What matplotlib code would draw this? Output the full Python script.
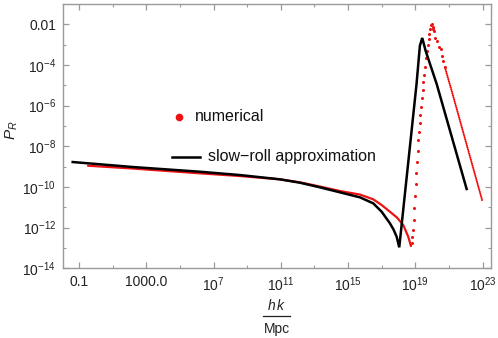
import numpy as np
import matplotlib
matplotlib.use("Agg")
import matplotlib.pyplot as plt
from matplotlib.ticker import FixedLocator, FixedFormatter, NullFormatter
from matplotlib.lines import Line2D

plt.rcParams['font.family'] = ['Liberation Sans', 'DejaVu Sans']
plt.rcParams['mathtext.fontset'] = 'custom'
plt.rcParams['mathtext.rm'] = 'Liberation Sans'
plt.rcParams['mathtext.it'] = 'Liberation Sans:italic'
plt.rcParams['mathtext.default'] = 'regular'

# ---- data (log10 values) ----
black_logk = [-1.375, 2.21, 6.194, 8.572, 10.95, 12.139, 13.328, 14.518, 15.707, 16.497, 16.997,
              17.49, 17.70, 17.889, 18.043,
              19.07, 19.27, 19.41, 19.61, 20.27, 22.05]
black_logP = [-8.773, -9.019, -9.250, -9.413, -9.624, -9.791, -10.018, -10.264, -10.510, -10.805, -11.218,
              -11.789, -12.09, -12.448, -12.969,
              -4.94, -3.05, -2.67, -3.30, -4.94, -10.10]

red_smooth_logk = [-0.465, 2.21, 6.194, 8.572, 10.95, 12.139, 13.328, 14.518, 15.707, 16.497, 16.997,
                   17.49, 17.906, 18.281, 18.578, 18.739]
red_smooth_logP = [-8.955, -9.093, -9.329, -9.462, -9.624, -9.772, -9.978, -10.200, -10.372, -10.608, -10.888,
                   -11.218, -11.503, -11.872, -12.448, -12.905]

red_dots_logk = [18.78, 18.82, 18.86, 18.90, 18.93, 18.98, 19.02, 19.05, 19.10, 19.14, 19.17, 19.21,
                 19.26, 19.29, 19.33, 19.37, 19.43, 19.47, 19.53, 19.59, 19.63, 19.71, 19.77, 19.79,
                 19.83, 19.87, 19.93, 19.99, 20.03, 20.06, 20.11, 20.18, 20.27, 20.42, 20.50, 20.56,
                 20.62, 20.76]
red_dots_logP = [-12.77, -12.45, -12.12, -11.63, -11.05, -10.45, -9.87, -9.30, -8.76, -8.22, -7.69, -7.28,
                 -6.87, -6.46, -6.05, -5.64, -5.23, -4.86, -4.48, -4.09, -3.67, -3.30, -3.00, -2.72,
                 -2.48, -2.23, -2.02, -1.99, -2.12, -2.23, -2.31, -2.67, -2.81, -3.13, -3.21, -3.54,
                 -3.79, -4.12]

red_tail_logk = [20.76, 21.16, 22.98]
red_tail_logP = [-4.12, -5.27, -10.68]

xtick_vals = [-1, 3, 7, 11, 15, 19, 23]
xtick_labels = ['0.1', '1000.0', '$10^{7}$', '$10^{11}$', '$10^{15}$', '$10^{19}$', '$10^{23}$']
ytick_vals = [-2, -4, -6, -8, -10, -12, -14]
ytick_labels = ['0.01', '$10^{-4}$', '$10^{-6}$', '$10^{-8}$', '$10^{-10}$', '$10^{-12}$', '$10^{-14}$']

W, H = 498, 338
fig = plt.figure(figsize=(W / 100, H / 100), dpi=100)
ax = fig.add_axes([63 / W, 1 - 268.3 / H, (490.7 - 63) / W, (268.3 - 4) / H])

p = lambda a: 10.0 ** np.asarray(a)
red = '#ee1111'
ax.plot(p(red_smooth_logk), p(red_smooth_logP), color=red, lw=1.6, solid_capstyle='round')
ax.plot(p(red_dots_logk), p(red_dots_logP), ls='none', marker='o', ms=2.2, mew=0, color=red)
ax.plot(p(red_tail_logk), p(red_tail_logP), color=red, lw=1.5, ls=(0, (0.1, 0.9)),
        dash_capstyle='round')
ax.plot(p(black_logk), p(black_logP), color='black', lw=1.8, solid_joinstyle='miter')

ax.set_xscale('log')
ax.set_yscale('log')
ax.set_xlim(10 ** -1.95, 10 ** 23.48)
ax.set_ylim(1e-14, 10 ** -1.0)

gray = '#9a9a9a'
for s in ax.spines.values():
    s.set_color(gray)
    s.set_linewidth(1.0)

ax.xaxis.set_major_locator(FixedLocator(p(xtick_vals)))
ax.xaxis.set_major_formatter(FixedFormatter(xtick_labels))
ax.xaxis.set_minor_locator(FixedLocator(p(np.arange(-1, 24, 2))))
ax.xaxis.set_minor_formatter(NullFormatter())
ax.yaxis.set_major_locator(FixedLocator(p(ytick_vals)))
ax.yaxis.set_major_formatter(FixedFormatter(ytick_labels))
ax.yaxis.set_minor_locator(FixedLocator(p(np.arange(-13, -1, 1))))
ax.yaxis.set_minor_formatter(NullFormatter())
ax.tick_params(which='both', direction='in', top=True, right=True, color=gray,
               labelsize=10, labelcolor='#222222')
ax.tick_params(which='major', length=4.5, width=0.9, pad=5)
ax.tick_params(which='minor', length=2.5, width=0.8)

# y label
fig.text(12 / W, 1 - 130 / H, '$\\mathit{P}_{\\mathit{R}}$', rotation=90, fontsize=11,
         ha='center', va='center', color='#222222')
# x label as fraction
fig.text(277 / W, 1 - 305 / H, '$\\mathit{h\\,k}$', fontsize=10, ha='center', va='center', color='#222222')
fig.add_artist(Line2D([263 / W, 290 / W], [1 - 316 / H, 1 - 316 / H], color='#222222', lw=0.9))
fig.text(277 / W, 1 - 329 / H, 'Mpc', fontsize=10, ha='center', va='center', color='#222222')

# legend drawn manually
fig.add_artist(Line2D([179 / W], [1 - 116.5 / H], marker='o', ms=5.5, mew=0, color=red, ls='none'))
fig.text(195 / W, 1 - 116.5 / H, 'numerical', fontsize=11.5, ha='left', va='center', color='#111111')
fig.add_artist(Line2D([172 / W, 200 / W], [1 - 156.5 / H, 1 - 156.5 / H], color='black', lw=1.8))
fig.text(208 / W, 1 - 156.5 / H, 'slow\u2212roll approximation', fontsize=11.5, ha='left', va='center',
         color='#111111')

fig.savefig('out.png', dpi=100)
